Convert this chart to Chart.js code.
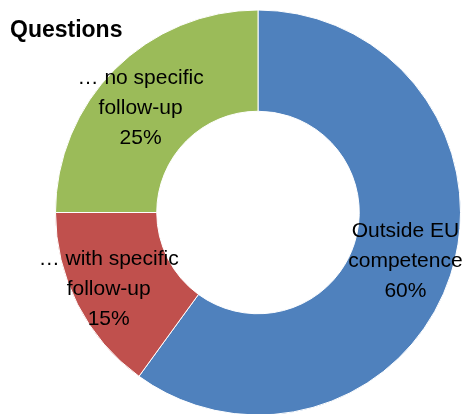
<!DOCTYPE html>
<html lang="en">
<head>
  <meta charset="UTF-8">
  <title>Questions</title>
  <script src="https://cdn.jsdelivr.net/npm/chart.js"></script>
  <style>
    html, body { margin: 0; padding: 0; background: #fff; overflow: hidden; }
    #wrap { position: relative; width: 467px; height: 416px; }
    #title {
      position: absolute; left: 10px; top: 16px;
      font: bold 23px "Liberation Sans", Arial, sans-serif; color: #000;
    }
  </style>
</head>
<body>
  <div id="wrap">
    <canvas id="questionsChart"></canvas>
    <div id="title">Questions</div>
  </div>

  <script>
    const categories = ['Outside EU competence', '… with specific follow-up', '… no specific follow-up'];
    const labelLines = [['Outside EU', 'competence'], ['… with specific', 'follow-up'], ['… no specific', 'follow-up']];
    const shares = [60, 15, 25];
    const colors = ['#4F81BD', '#C0504D', '#9BBB59'];
    // small nudges from the arc centroid so the text sits like the original
    const nudges = [[3, 2], [-14, 8], [-10, 3]];

    const sliceLabels = {
      id: 'sliceLabels',
      afterDatasetsDraw(chart) {
        const ctx = chart.ctx;
        const meta = chart.getDatasetMeta(0);
        ctx.save();
        ctx.font = '21px "Liberation Sans", Arial, sans-serif';
        ctx.fillStyle = '#000';
        ctx.textAlign = 'center';
        ctx.textBaseline = 'middle';
        meta.data.forEach((arc, i) => {
          const pos = arc.tooltipPosition();
          const lines = labelLines[i].concat([shares[i] + '%']);
          const lh = 30;
          const x = pos.x + nudges[i][0];
          const y0 = pos.y + nudges[i][1] - lh * (lines.length - 1) / 2;
          lines.forEach((t, j) => ctx.fillText(t, x, y0 + j * lh));
        });
        ctx.restore();
      }
    };

    new Chart(document.getElementById('questionsChart'), {
      type: 'doughnut',
      data: {
        labels: categories,
        datasets: [{
          data: shares,
          backgroundColor: colors,
          borderColor: '#ffffff',
          borderWidth: 1
        }]
      },
      options: {
        responsive: true,
        maintainAspectRatio: false,
        animation: false,
        cutout: '50%',
        layout: { padding: { left: 55, right: 6, top: 9, bottom: 0 } },
        plugins: {
          legend: { display: false },
          tooltip: { enabled: false }
        }
      },
      plugins: [sliceLabels]
    });
  </script>
</body>
</html>
